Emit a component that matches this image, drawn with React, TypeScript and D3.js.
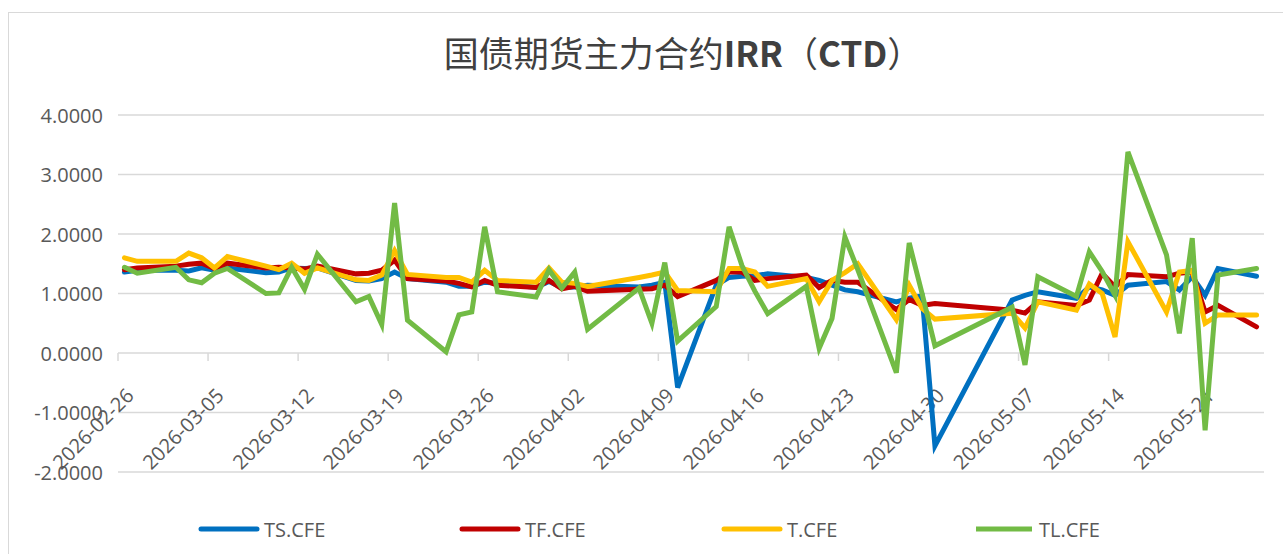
import React from "react";
import * as d3 from "d3";

// trading days (IRR of the CTD bond for each main contract)
const dates = [
  "2026-02-26", "2026-02-27", "2026-03-02", "2026-03-03", "2026-03-04", "2026-03-05", "2026-03-06",
  "2026-03-09", "2026-03-10", "2026-03-11", "2026-03-12", "2026-03-13", "2026-03-16", "2026-03-17",
  "2026-03-18", "2026-03-19", "2026-03-20", "2026-03-23", "2026-03-24", "2026-03-25", "2026-03-26",
  "2026-03-27", "2026-03-30", "2026-03-31", "2026-04-01", "2026-04-02", "2026-04-03", "2026-04-07",
  "2026-04-08", "2026-04-09", "2026-04-10", "2026-04-13", "2026-04-14", "2026-04-15", "2026-04-16",
  "2026-04-17", "2026-04-20", "2026-04-21", "2026-04-22", "2026-04-23", "2026-04-24", "2026-04-27",
  "2026-04-28", "2026-04-29", "2026-04-30", "2026-05-06", "2026-05-07", "2026-05-08", "2026-05-11",
  "2026-05-12", "2026-05-13", "2026-05-14", "2026-05-15", "2026-05-18", "2026-05-19", "2026-05-20",
  "2026-05-21", "2026-05-22", "2026-05-25",
];

const ts = [
  1.36, 1.39, 1.39, 1.38, 1.43, 1.39, 1.43, 1.35, 1.36, 1.43, 1.42, 1.43, 1.22, 1.21, 1.25, 1.36, 1.25,
  1.19, 1.12, 1.12, 1.19, 1.17, 1.1, 1.2, 1.1, 1.11, 1.14, 1.11, 1.14, 1.19, -0.58, 1.14, 1.27, 1.29,
  1.3, 1.33, 1.27, 1.22, 1.14, 1.06, 1.03, 0.86, 0.92, 0.96, -1.56, 0.89, 0.97, 1.03, 0.92, 1.11, 1.06,
  0.97, 1.14, 1.2, 1.06, 1.28, 0.97, 1.42, 1.29,
];
const tf = [
  1.4, 1.43, 1.46, 1.49, 1.51, 1.42, 1.51, 1.43, 1.44, 1.43, 1.41, 1.46, 1.33, 1.34, 1.39, 1.56, 1.25,
  1.21, 1.17, 1.11, 1.22, 1.14, 1.1, 1.22, 1.08, 1.12, 1.04, 1.07, 1.08, 1.14, 0.95, 1.22, 1.36, 1.36,
  1.22, 1.25, 1.31, 1.1, 1.22, 1.19, 1.19, 0.73, 0.9, 0.8, 0.83, 0.72, 0.67, 0.86, 0.8, 0.89, 1.34,
  1.11, 1.32, 1.28, 1.34, 1.36, 0.69, 0.8, 0.44,
];
const t = [
  1.6, 1.54, 1.54, 1.68, 1.6, 1.43, 1.62, 1.46, 1.4, 1.51, 1.34, 1.43, 1.23, 1.22, 1.31, 1.72, 1.32,
  1.27, 1.27, 1.19, 1.39, 1.22, 1.19, 1.43, 1.19, 1.17, 1.12, 1.27, 1.31, 1.36, 1.05, 1.03, 1.42, 1.42,
  1.36, 1.12, 1.25, 0.86, 1.22, 1.35, 1.5, 0.56, 1.14, 0.75, 0.57, 0.67, 0.42, 0.86, 0.72, 1.16, 1.0,
  0.27, 1.87, 0.69, 1.36, 1.39, 0.5, 0.64, 0.64,
];
const tl = [
  1.44, 1.34, 1.44, 1.23, 1.18, 1.34, 1.42, 1.0, 1.01, 1.44, 1.07, 1.66, 0.86, 0.95, 0.48, 2.52, 0.55,
  0.02, 0.64, 0.69, 2.12, 1.03, 0.94, 1.4, 1.09, 1.36, 0.4, 1.09, 0.5, 1.52, 0.2, 0.78, 2.12, 1.47,
  1.04, 0.66, 1.12, 0.08, 0.58, 1.95, 1.4, -0.33, 1.85, 1.0, 0.12, 0.77, -0.2, 1.28, 0.95, 1.7, 1.37,
  0.97, 3.38, 1.65, 0.33, 1.93, -1.3, 1.31, 1.42,
];

const seriesNames = ["TS.CFE", "TF.CFE", "T.CFE", "TL.CFE"];
const seriesValues = [ts, tf, t, tl];
const colors = ["#0070C0", "#C00000", "#FFC000", "#72BB45"];
const yTicks = [-2, -1, 0, 1, 2, 3, 4];

const parse = d3.utcParse("%Y-%m-%d");
const fmtDate = d3.utcFormat("%Y-%m-%d");
const fmtNum = d3.formatLocale({ decimal: ".", thousands: ",", grouping: [3], currency: ["", ""], minus: "-" }).format(".4f");

const W = 1283;
const H = 554;
const margin = { left: 118, right: 1263, top: 115, bottom: 472 };
const font = "'Open Sans', 'Noto Sans', sans-serif";

export default function App() {
  const parsed = dates.map((d) => parse(d));
  const start = parsed[0];
  const end = d3.utcDay.offset(parsed[parsed.length - 1], 1);

  const x = d3.scaleUtc().domain([start, end]).range([margin.left, margin.right]);
  const y = d3.scaleLinear().domain([-2, 4]).range([margin.bottom, margin.top]);
  // points sit in the middle of their day
  const px = (d) => x(d3.utcHour.offset(d, 12));

  const tickDates = d3.utcDay.range(start, end, 7);

  const line = d3
    .line()
    .x((d) => px(d[0]))
    .y((d) => y(d[1]));

  const legendX = [201, 462, 724, 976];

  return (
    <svg width={W} height={H} style={{ position: "fixed", left: 0, top: 0, background: "#fff" }}>
      <line x1={8.5} y1={12} x2={8.5} y2={H} stroke="#d9d9d9" />
      <line x1={8} y1={12.5} x2={W} y2={12.5} stroke="#d9d9d9" />

      <text x={683} y={51} textAnchor="middle" dominantBaseline="central" fontSize={35} fill="#404040"
        fontFamily="'Noto Sans CJK SC', sans-serif">
        国债期货主力合约<tspan fontWeight="bold">IRR</tspan>（<tspan fontWeight="bold">CTD</tspan>）
      </text>

      {yTicks.map((v) => (
        <g key={v}>
          <line x1={margin.left} x2={margin.right + 1} y1={y(v)} y2={y(v)} stroke="#d9d9d9" strokeWidth={1.5} />
          <text x={103} y={y(v)} textAnchor="end" dominantBaseline="central" fontSize={20} fill="#595959" fontFamily={font}>
            {fmtNum(v)}
          </text>
        </g>
      ))}

      {tickDates.map((d) => (
        <g key={+d}>
          <line x1={x(d)} x2={x(d)} y1={y(0)} y2={y(0) + 8} stroke="#d9d9d9" strokeWidth={1.5} />
          <text transform={`translate(${x(d) + 17},${397}) rotate(-45)`} textAnchor="end" fontSize={20}
            fill="#595959" fontFamily={font}>
            {fmtDate(d)}
          </text>
        </g>
      ))}

      {seriesValues.map((vals, i) => (
        <path key={seriesNames[i]} d={line(vals.map((v, j) => [parsed[j], v]))} fill="none" stroke={colors[i]}
          strokeWidth={5} strokeLinejoin="miter" strokeMiterlimit={4} strokeLinecap="round" />
      ))}

      {seriesNames.map((name, i) => (
        <g key={name}>
          <line x1={legendX[i]} x2={legendX[i] + 56} y1={529} y2={529} stroke={colors[i]} strokeWidth={5}
            strokeLinecap={i === 3 ? "butt" : "round"} />
          <text x={legendX[i] + 63} y={529} dominantBaseline="central" fontSize={20} fill="#595959" fontFamily={font}>
            {name}
          </text>
        </g>
      ))}
    </svg>
  );
}
